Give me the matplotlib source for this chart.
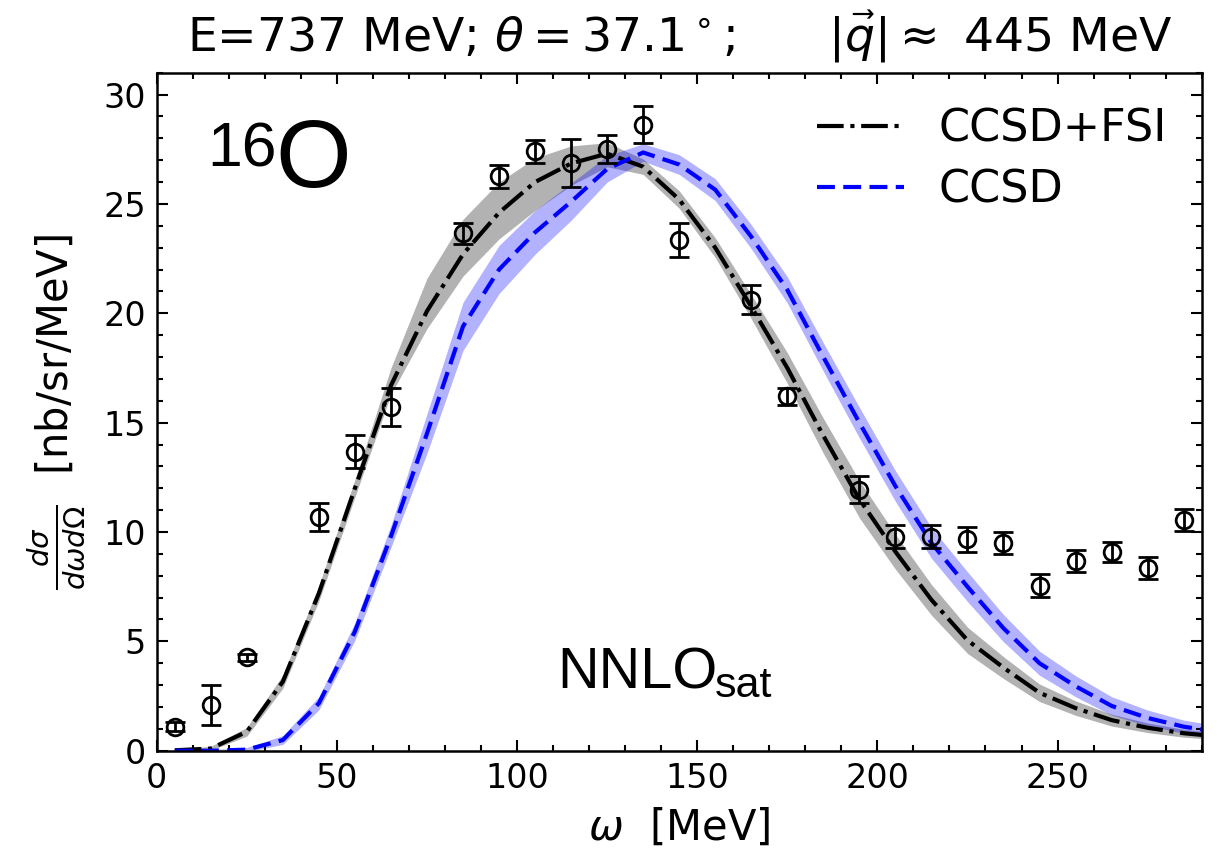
import numpy as np
import matplotlib.pyplot as plt
from matplotlib.ticker import MultipleLocator

# ── data ──────────────────────────────────────────────────────────────────────
# theory grid (MeV)
omega_th = [5, 15, 25, 35, 45, 55, 65, 75, 85, 95, 105, 115, 125, 135, 145,
            155, 165, 175, 185, 195, 205, 215, 225, 235, 245, 255, 265, 275,
            285, 295]

# CCSD+FSI central curve and band (lower / upper offsets)
ccsd_fsi = [0.02, 0.1, 0.87, 3.16, 7.2, 12.0, 16.7, 20.1, 22.7, 24.6, 26.0,
            26.85, 27.3, 26.7, 25.2, 23.0, 20.3, 17.5, 14.4, 11.5, 9.1, 6.9,
            5.05, 3.8, 2.65, 1.95, 1.4, 1.05, 0.8, 0.65]
ccsd_fsi_dlo = [0.02, 0.08, 0.2, 0.3, 0.35, 0.4, 0.4, 0.8, 1.0, 1.2, 1.3, 1.0,
                0.6, 0.35, 0.4, 0.45, 0.55, 0.7, 0.8, 0.85, 0.8, 0.7, 0.6,
                0.5, 0.4, 0.33, 0.27, 0.22, 0.18, 0.15]
ccsd_fsi_dhi = [0.05, 0.1, 0.2, 0.3, 0.35, 0.4, 0.8, 1.5, 1.6, 1.4, 1.1, 0.8,
                0.5, 0.35, 0.4, 0.45, 0.55, 0.7, 0.8, 0.85, 0.8, 0.7, 0.6,
                0.5, 0.4, 0.33, 0.27, 0.22, 0.18, 0.15]

# CCSD central curve and symmetric band
ccsd = [0.0, 0.0, 0.05, 0.49, 2.17, 5.45, 9.8, 14.5, 19.4, 22.0, 23.7, 25.1,
        26.6, 27.35, 26.8, 25.65, 23.5, 21.07, 18.0, 15.0, 12.1, 9.5, 7.5,
        5.6, 4.0, 2.95, 2.05, 1.5, 1.1, 0.85]
ccsd_err = [0.02, 0.05, 0.1, 0.2, 0.3, 0.4, 0.5, 0.9, 1.1, 1.1, 1.0, 0.85,
            0.6, 0.4, 0.45, 0.5, 0.55, 0.6, 0.65, 0.7, 0.7, 0.7, 0.68, 0.62,
            0.55, 0.48, 0.42, 0.36, 0.3, 0.28]

# experimental points
omega_exp = [5, 15, 25, 45, 55, 65, 85, 95, 105, 115, 125, 135, 145, 165,
             175, 195, 205, 215, 225, 235, 245, 255, 265, 275, 285]
xs_exp = [1.1, 2.09, 4.27, 10.7, 13.68, 15.71, 23.67, 26.26, 27.4, 26.87,
          27.51, 28.62, 23.36, 20.62, 16.2, 11.93, 9.79, 9.79, 9.67, 9.49,
          7.55, 8.69, 9.1, 8.34, 10.55]
err_exp = [0.2, 0.93, 0.15, 0.64, 0.74, 0.87, 0.48, 0.53, 0.51, 1.09, 0.65,
           0.84, 0.79, 0.65, 0.4, 0.61, 0.53, 0.53, 0.57, 0.5, 0.53, 0.5,
           0.45, 0.5, 0.5]

# ── plot ──────────────────────────────────────────────────────────────────────
w = np.array(omega_th)
fsi = np.array(ccsd_fsi)
cc = np.array(ccsd)

fig = plt.figure(figsize=(12.17, 8.48), dpi=100)
ax = fig.add_axes([0.1288, 0.1147, 0.8586, 0.7996])

ax.fill_between(w, fsi - np.array(ccsd_fsi_dlo), fsi + np.array(ccsd_fsi_dhi),
                color='k', alpha=0.3, lw=0)
ax.fill_between(w, cc - np.array(ccsd_err), cc + np.array(ccsd_err),
                color='b', alpha=0.3, lw=0)
ax.plot(w, fsi, color='k', ls='-.', lw=3, label='CCSD+FSI')
ax.plot(w, cc, color='b', ls=(0, (4.3, 2.0)), lw=3, label='CCSD')

ax.errorbar(omega_exp, xs_exp, yerr=err_exp, fmt='o', mfc='none', mec='k',
            ms=12, mew=2, ecolor='k', elinewidth=2, capsize=7, capthick=2,
            zorder=4)

ax.set_xlim(0, 290)
ax.set_ylim(0, 31)
ax.xaxis.set_major_locator(MultipleLocator(50))
ax.xaxis.set_minor_locator(MultipleLocator(10))
ax.yaxis.set_major_locator(MultipleLocator(5))
ax.yaxis.set_minor_locator(MultipleLocator(1))
ax.tick_params(which='both', direction='in', top=True, right=True,
               width=1.5, labelsize=24, pad=8)
ax.tick_params(which='major', length=8)
ax.tick_params(which='minor', length=4.5)
for sp in ax.spines.values():
    sp.set_linewidth(1.8)

ax.set_xlabel(r'$\omega$  [MeV]', fontsize=30, labelpad=0)
ax.xaxis.set_label_coords(0.5, -0.083)
ax.set_ylabel(r'$\frac{d\sigma}{d\omega d\Omega}$  [nb/sr/MeV]', fontsize=30)
ax.yaxis.set_label_coords(-0.066, 0.5)
ax.set_title(r'E=737 MeV; $\theta = 37.1^\circ$;      $|\vec{q}| \approx$ 445 MeV',
             fontsize=34, pad=15)

ax.text(0.048, 0.93, '16', transform=ax.transAxes, fontsize=45,
        family='Liberation Sans', va='top', ha='left')
ax.text(0.114, 0.935, 'O', transform=ax.transAxes, fontsize=70,
        family='Liberation Sans', va='top', ha='left')
ax.text(0.383, 0.092, 'NNLO', transform=ax.transAxes, fontsize=41.5,
        family='Liberation Sans', va='baseline', ha='left')
ax.text(0.534, 0.079, 'sat', transform=ax.transAxes, fontsize=31,
        family='Liberation Sans', va='baseline', ha='left')

ax.legend(loc='upper left', bbox_to_anchor=(0.632, 0.948), frameon=False,
          fontsize=32, handlelength=1.95, handletextpad=0.78, labelspacing=0.4,
          borderpad=0, borderaxespad=0)

fig.savefig('out.png', dpi=100)
